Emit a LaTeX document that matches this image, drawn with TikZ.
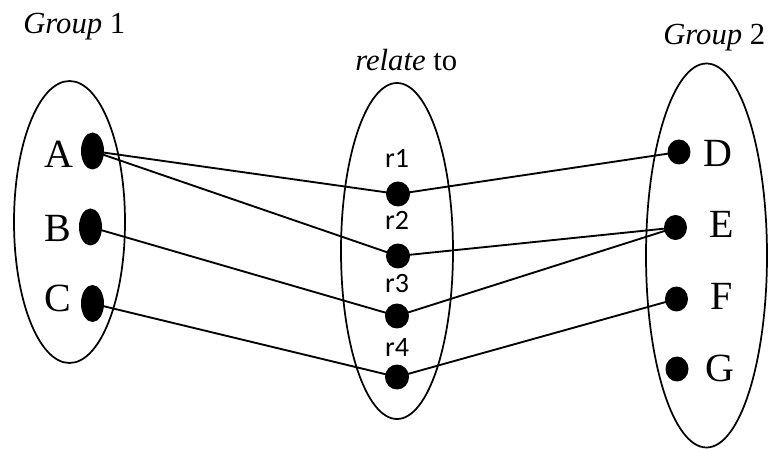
\documentclass[tikz,border=0pt]{standalone}
\usepackage{fontspec}
\setmainfont{Liberation Serif}
\newfontfamily\timesfont{Liberation Serif}
\newfontfamily\calibfont{Carlito}
\usetikzlibrary{shapes.geometric}
\begin{document}
\begin{tikzpicture}[x=0.75pt,y=-0.75pt,
  setoval/.style={draw, ellipse, line width=1.3pt, inner sep=0pt},
  ldot/.style={fill=black, ellipse, inner sep=0pt, minimum width=17.25pt, minimum height=27.75pt},
  mdot/.style={fill=black, ellipse, inner sep=0pt, minimum width=18pt, minimum height=18.75pt},
  rdot/.style={fill=black, ellipse, inner sep=0pt, minimum width=17.25pt, minimum height=18.75pt},
  letter/.style={font=\timesfont\fontsize{30}{30}\selectfont, anchor=base, inner sep=0pt},
  rlab/.style={font=\calibfont\fontsize{21}{21}\selectfont, anchor=base, inner sep=0pt},
  grouptitle/.style={font=\timesfont\fontsize{23}{23}\selectfont, anchor=base west, inner sep=0pt},
  link/.style={line width=1.4pt}]
\useasboundingbox (0,0) rectangle (772,449);
% set ovals
\node[setoval, minimum width=83.25pt, minimum height=211.5pt] (g1) at (69.5,222) {};
\node[setoval, minimum width=84pt, minimum height=252pt] (rel) at (397,251) {};
\node[setoval, minimum width=90.75pt, minimum height=288pt] (g2) at (706.5,255.5) {};
% titles
\node[grouptitle] (t1) at (23,34) {{\itshape Group} 1};
\node[grouptitle] (t2) at (355,71) {{\itshape relate} to};
\node[grouptitle] (t3) at (663,45) {{\itshape Group} 2};
% dots
\node[ldot] (A) at (92.5,151) {};
\node[ldot] (B) at (90.5,227) {};
\node[ldot] (C) at (92.5,303.5) {};
\node[mdot] (r1) at (398,194) {};
\node[mdot] (r2) at (398,256) {};
\node[mdot] (r3) at (397,316) {};
\node[mdot] (r4) at (397,377) {};
\node[rdot] (D) at (679,152) {};
\node[rdot] (E) at (675.5,227.5) {};
\node[rdot] (F) at (676.5,299) {};
\node[rdot] (G) at (677,369) {};
% letters
\node[letter] (lA) at (59,168) {A};
\node[letter] (lB) at (58,241.5) {B};
\node[letter] (lC) at (58,312) {C};
\node[letter] (lD) at (718,167) {D};
\node[letter] (lE) at (722,238) {E};
\node[letter] (lF) at (722,310) {F};
\node[letter] (lG) at (720,382) {G};
% r labels
\node[rlab] (lr1) at (397,168) {r1};
\node[rlab] (lr2) at (397,230) {r2};
\node[rlab] (lr3) at (397,293) {r3};
\node[rlab] (lr4) at (397,356) {r4};
% links
\draw[link] (A.center) -- (r1.center);
\draw[link] (A.center) -- (r2.center);
\draw[link] (B.center) -- (r3.center);
\draw[link] (C.center) -- (r4.center);
\draw[link] (r1.center) -- (D.center);
\draw[link] (r2.center) -- (E.center);
\draw[link] (r3.center) -- (E.center);
\draw[link] (r4.center) -- (F.center);
\end{tikzpicture}
\end{document}
